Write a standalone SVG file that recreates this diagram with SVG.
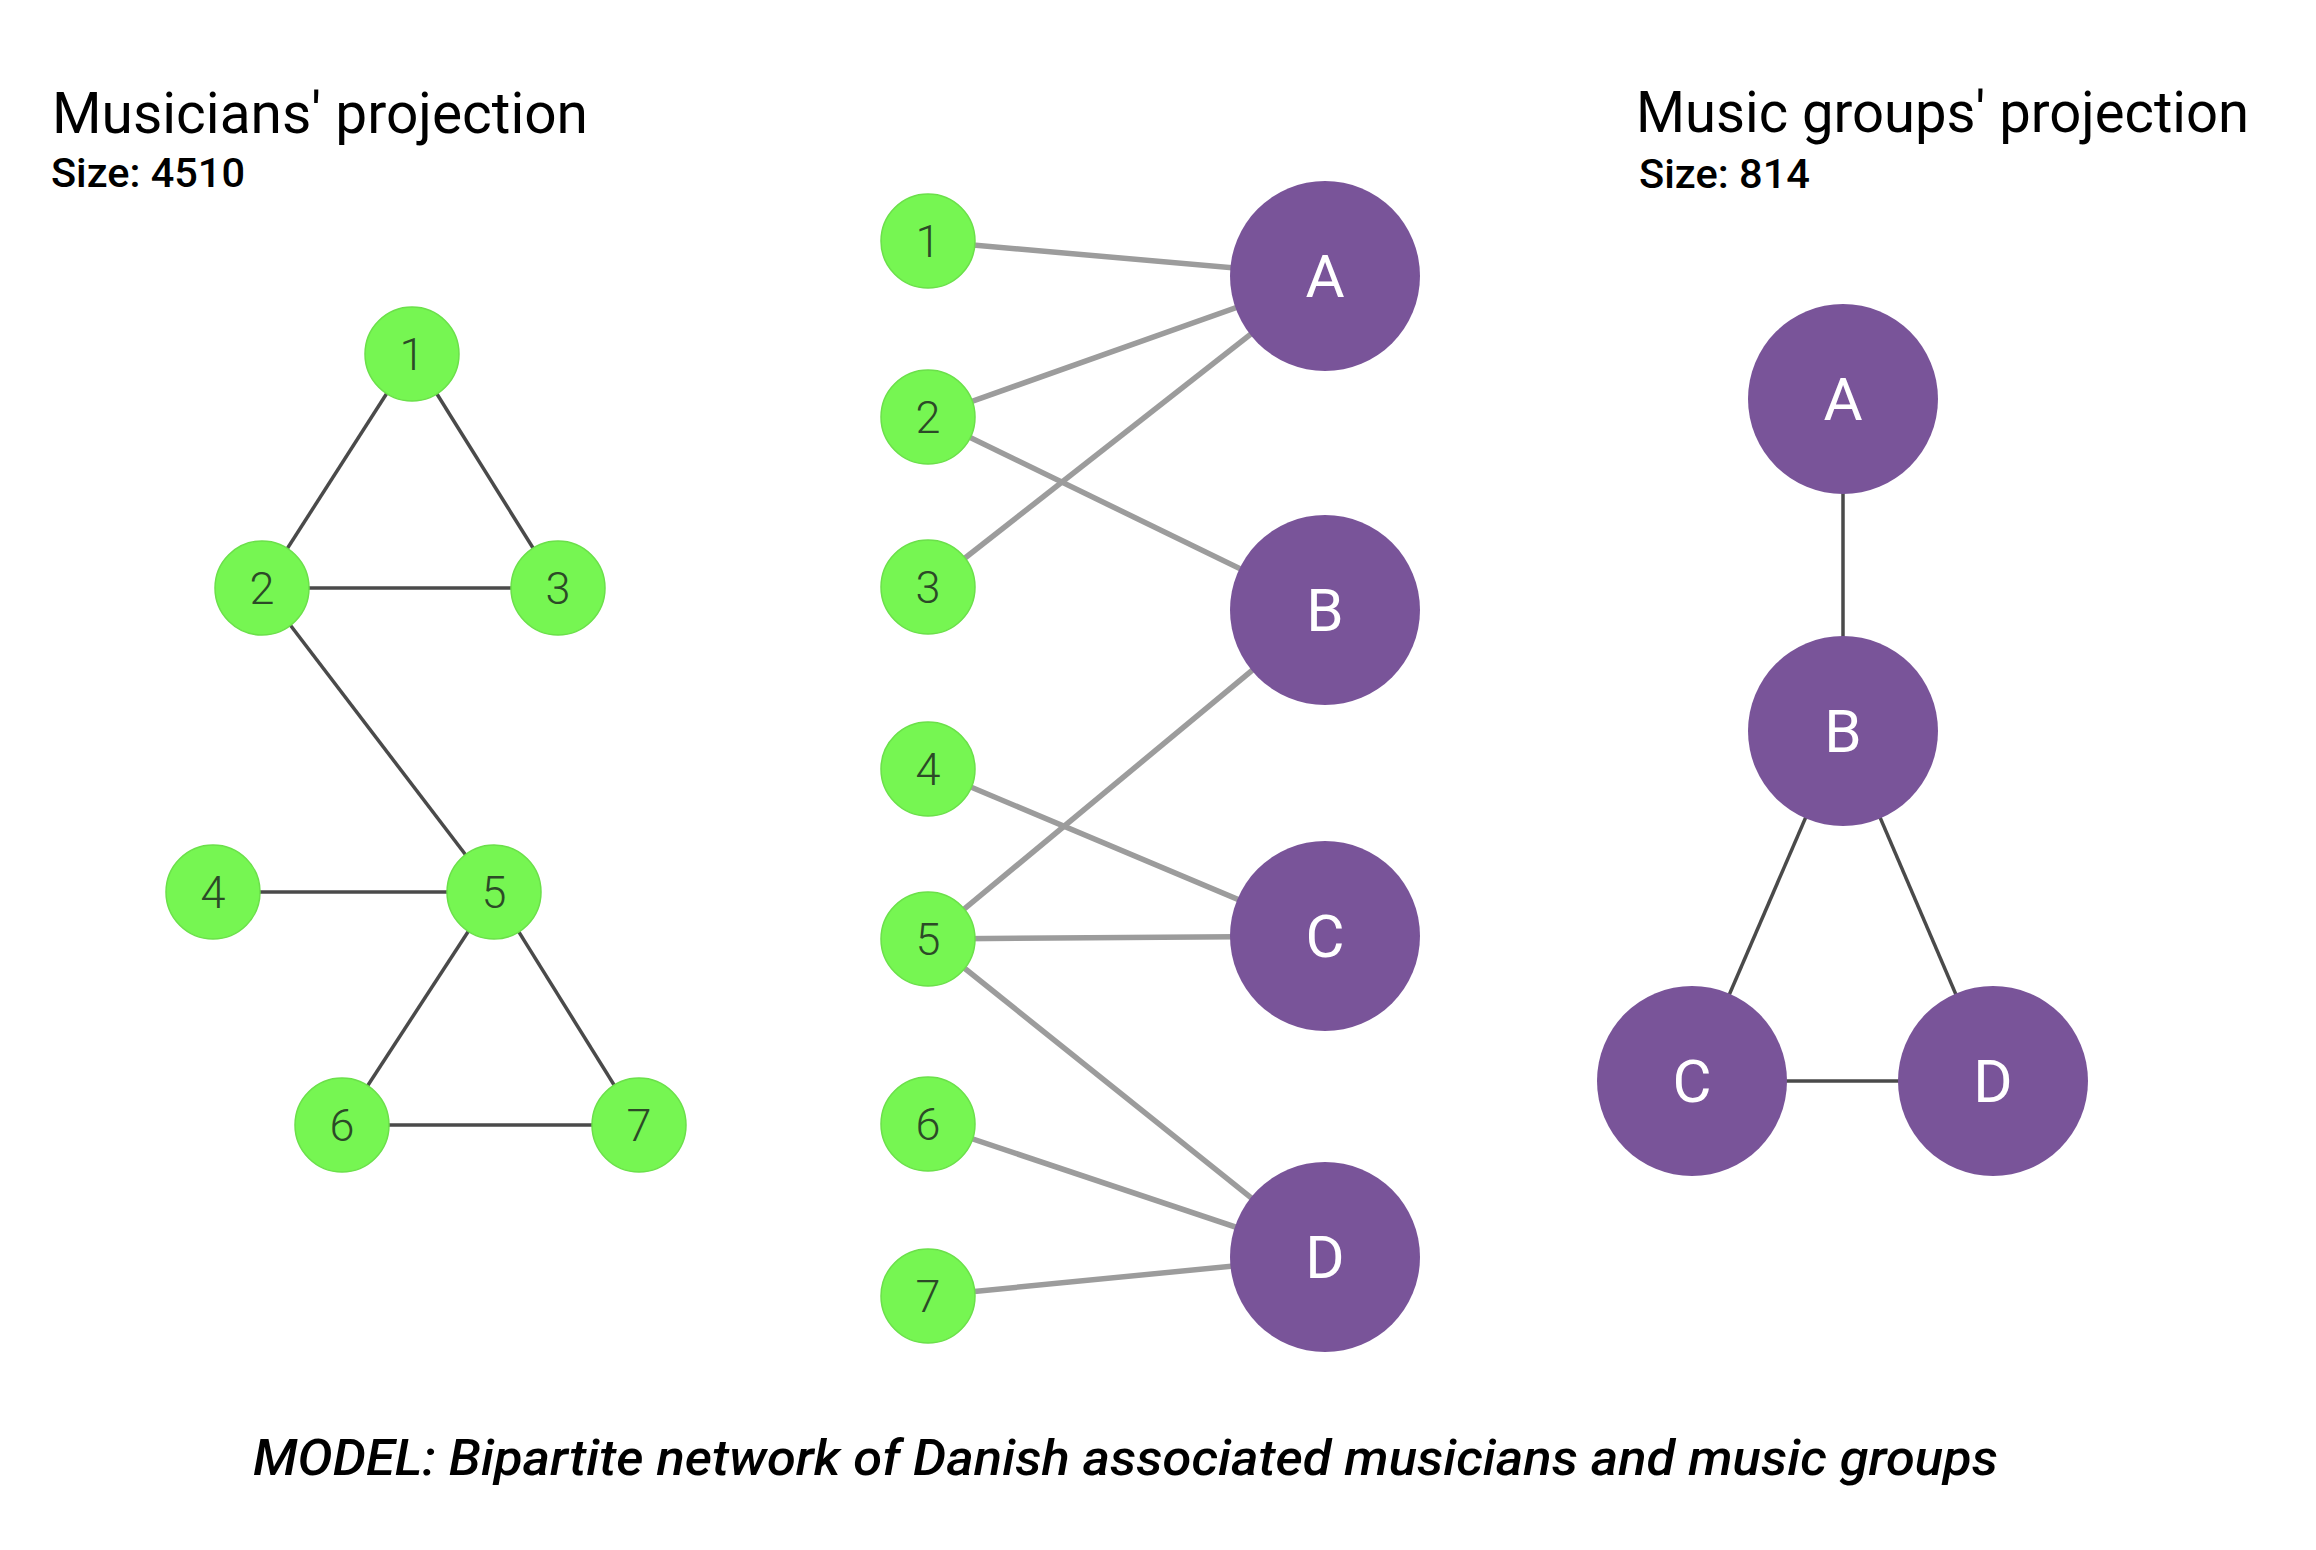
<svg xmlns="http://www.w3.org/2000/svg" width="2316" height="1550" viewBox="0 0 2316 1550">
<style>
.title{font-family:Roboto,"Liberation Sans",sans-serif;font-size:58px;fill:#000}
.sub{font-family:Roboto,"Liberation Sans",sans-serif;font-size:40px;font-weight:500;fill:#000}
.cap{font-family:Roboto,"Liberation Sans",sans-serif;font-size:49px;font-weight:500;font-style:italic;fill:#000}
.g{fill:#76f652;stroke:#6be04a;stroke-width:1.5}
.p{fill:#795499}
.gl{font-family:Roboto,"DejaVu Sans",sans-serif;font-size:45px;font-weight:300;fill:#2c4a27;text-anchor:middle}
.pl{font-family:Roboto,"DejaVu Sans",sans-serif;font-size:60px;fill:#fff;text-anchor:middle}
.e1{stroke:#4a4a4a;stroke-width:3.5;fill:none}
.e2{stroke:#9c9c9c;stroke-width:5.5;fill:none}
</style>
<rect width="2316" height="1550" fill="#fff"/>
<text class="title" x="52" y="133" textLength="536" lengthAdjust="spacingAndGlyphs">Musicians' projection</text>
<text class="sub" x="51" y="187" textLength="194" lengthAdjust="spacingAndGlyphs">Size: 4510</text>
<text class="title" x="1636" y="132" textLength="613" lengthAdjust="spacingAndGlyphs">Music groups' projection</text>
<text class="sub" x="1639" y="188" textLength="171" lengthAdjust="spacingAndGlyphs">Size: 814</text>
<text class="cap" x="253" y="1475" textLength="1745" lengthAdjust="spacingAndGlyphs">MODEL: Bipartite network of Danish associated musicians and music groups</text>

<g id="connectors">
<line class="e1" x1="412" y1="354" x2="262" y2="588"/>
<line class="e1" x1="412" y1="354" x2="558" y2="588"/>
<line class="e1" x1="262" y1="588" x2="558" y2="588"/>
<line class="e1" x1="262" y1="588" x2="494" y2="892"/>
<line class="e1" x1="213" y1="892" x2="494" y2="892"/>
<line class="e1" x1="494" y1="892" x2="342" y2="1125"/>
<line class="e1" x1="494" y1="892" x2="639" y2="1125"/>
<line class="e1" x1="342" y1="1125" x2="639" y2="1125"/>
<line class="e2" x1="928" y1="241" x2="1325" y2="276"/>
<line class="e2" x1="928" y1="417" x2="1325" y2="276"/>
<line class="e2" x1="928" y1="587" x2="1325" y2="276"/>
<line class="e2" x1="928" y1="417" x2="1325" y2="610"/>
<line class="e2" x1="928" y1="939" x2="1325" y2="610"/>
<line class="e2" x1="928" y1="769" x2="1325" y2="936"/>
<line class="e2" x1="928" y1="939" x2="1325" y2="936"/>
<line class="e2" x1="928" y1="939" x2="1325" y2="1257"/>
<line class="e2" x1="928" y1="1124" x2="1325" y2="1257"/>
<line class="e2" x1="928" y1="1296" x2="1325" y2="1257"/>
<line class="e1" x1="1843" y1="399" x2="1843" y2="731"/>
<line class="e1" x1="1843" y1="731" x2="1692" y2="1081"/>
<line class="e1" x1="1843" y1="731" x2="1993" y2="1081"/>
<line class="e1" x1="1692" y1="1081" x2="1993" y2="1081"/>
</g>

<g id="m1"><circle class="g" cx="412" cy="354" r="47"/><text class="gl" x="412" y="370">1</text></g>
<g id="m2"><circle class="g" cx="262" cy="588" r="47"/><text class="gl" x="262" y="604">2</text></g>
<g id="m3"><circle class="g" cx="558" cy="588" r="47"/><text class="gl" x="558" y="604">3</text></g>
<g id="m4"><circle class="g" cx="213" cy="892" r="47"/><text class="gl" x="213" y="908">4</text></g>
<g id="m5"><circle class="g" cx="494" cy="892" r="47"/><text class="gl" x="494" y="908">5</text></g>
<g id="m6"><circle class="g" cx="342" cy="1125" r="47"/><text class="gl" x="342" y="1141">6</text></g>
<g id="m7"><circle class="g" cx="639" cy="1125" r="47"/><text class="gl" x="639" y="1141">7</text></g>

<g id="b1"><circle class="g" cx="928" cy="241" r="47"/><text class="gl" x="928" y="257">1</text></g>
<g id="b2"><circle class="g" cx="928" cy="417" r="47"/><text class="gl" x="928" y="433">2</text></g>
<g id="b3"><circle class="g" cx="928" cy="587" r="47"/><text class="gl" x="928" y="603">3</text></g>
<g id="b4"><circle class="g" cx="928" cy="769" r="47"/><text class="gl" x="928" y="785">4</text></g>
<g id="b5"><circle class="g" cx="928" cy="939" r="47"/><text class="gl" x="928" y="955">5</text></g>
<g id="b6"><circle class="g" cx="928" cy="1124" r="47"/><text class="gl" x="928" y="1140">6</text></g>
<g id="b7"><circle class="g" cx="928" cy="1296" r="47"/><text class="gl" x="928" y="1312">7</text></g>
<g id="bA"><circle class="p" cx="1325" cy="276" r="95"/><text class="pl" x="1325" y="297">A</text></g>
<g id="bB"><circle class="p" cx="1325" cy="610" r="95"/><text class="pl" x="1325" y="631">B</text></g>
<g id="bC"><circle class="p" cx="1325" cy="936" r="95"/><text class="pl" x="1325" y="957">C</text></g>
<g id="bD"><circle class="p" cx="1325" cy="1257" r="95"/><text class="pl" x="1325" y="1278">D</text></g>

<g id="gA"><circle class="p" cx="1843" cy="399" r="95"/><text class="pl" x="1843" y="420">A</text></g>
<g id="gB"><circle class="p" cx="1843" cy="731" r="95"/><text class="pl" x="1843" y="752">B</text></g>
<g id="gC"><circle class="p" cx="1692" cy="1081" r="95"/><text class="pl" x="1692" y="1102">C</text></g>
<g id="gD"><circle class="p" cx="1993" cy="1081" r="95"/><text class="pl" x="1993" y="1102">D</text></g>
</svg>
